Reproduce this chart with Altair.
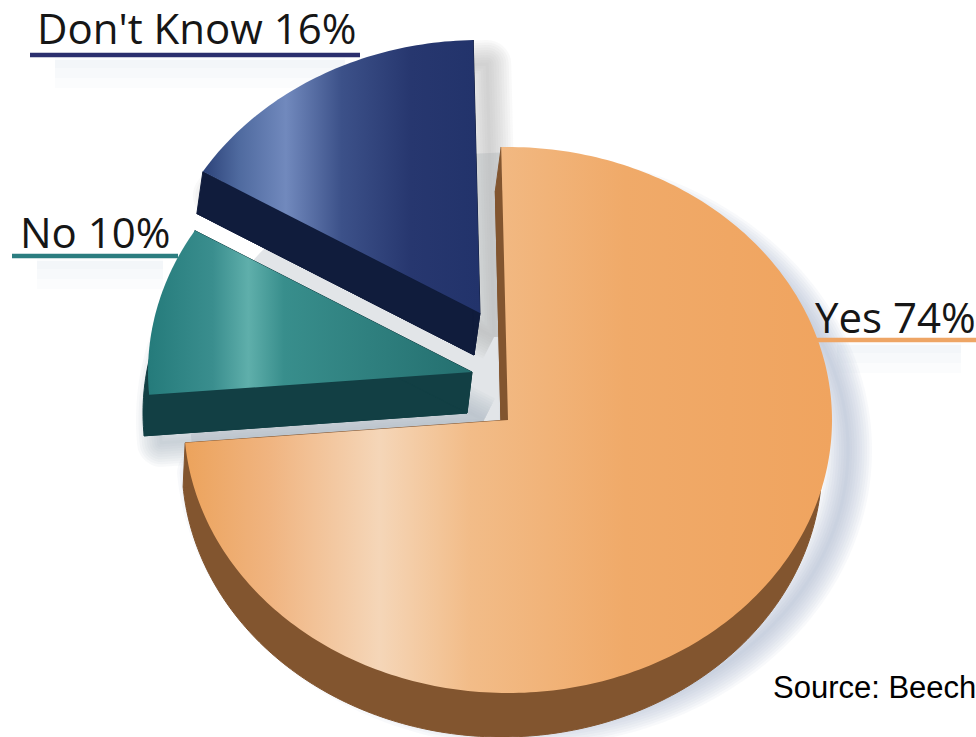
import math
import altair as alt
import pandas as pd

# Survey shares, clockwise from the first slice
categories = ["Yes", "No", "Don't Know"]
shares = [74, 10, 16]

W, H = 976, 737
START_ANGLE = -1.2          # degrees clockwise from 12 o'clock
RX, RY = 324, 273           # the pie is squashed into an ellipse

# Apex of each exploded slice, the extrusion vector of its side wall,
# and the width of the ellipse that forms the wall's lower rim
apex = {"Yes": (508, 420), "No": (472, 372), "Don't Know": (480, 313)}
depth = {"Yes": (-6, 44), "No": (-5, 41), "Don't Know": (-6, 42)}
wall_rx = {"Yes": 320, "No": 324, "Don't Know": 324}
shadow_offsets = {"Yes": [(16, 30)], "No": [(12, 48)], "Don't Know": [(14, 24)]}
shadow_colors = {"Yes": "#a9b8ca", "No": "#aab4bf", "Don't Know": "#adb2b8"}

face_stops = {
    "Yes": [(0, "#eca35c"), (0.13, "#f0b480"), (0.30, "#f5d6b8"), (0.44, "#f2bc88"),
            (0.68, "#f0aa69"), (1, "#f0a45f")],
    "No": [(0, "#257b7b"), (0.20, "#3a8e8e"), (0.31, "#5fafab"), (0.42, "#388e8c"), (1, "#246f6f")],
    "Don't Know": [(0, "#2c4279"), (0.13, "#4f6a9f"), (0.30, "#7189bd"), (0.50, "#3c5189"),
                   (0.75, "#27376f"), (1, "#22336b")],
}
wall_colors = {"Yes": "#82552f", "No": "#123f44", "Don't Know": "#101c3c"}
rule_colors = {"Yes": "#eea565", "No": "#2b7d80", "Don't Know": "#2b2f6e"}

# Label anchor (left, baseline) and underline extent for each slice
label_pos = {"Yes": (815, 333), "No": (20, 248), "Don't Know": (37, 44)}
rule_pos = {"Yes": (812, 976, 340), "No": (12, 178, 256), "Don't Know": (30, 360, 55)}

x_enc = alt.X("x:Q", scale=alt.Scale(domain=[0, W], range=[0, W], nice=False, zero=False), axis=None)
y_enc = alt.Y("y:Q", scale=alt.Scale(domain=[0, H], range=[0, H], nice=False, zero=False), axis=None)


def sector(center, a0, a1, dx=0, dy=0, rx=RX, ry=RY):
    """Closed outline of an elliptical sector between two clock angles."""
    cx, cy = center
    n = max(int(abs(a1 - a0)), 2)
    pts = [(cx + dx, cy + dy)]
    for k in range(n + 1):
        a = math.radians(a0 + (a1 - a0) * k / n)
        pts.append((cx + dx + rx * math.sin(a), cy + dy - ry * math.cos(a)))
    pts.append(pts[0])
    return pts


def polygon(pts, **mark):
    df = pd.DataFrame(pts, columns=["x", "y"]).assign(i=range(len(pts)))
    return alt.Chart(df).mark_line(clip=True, **mark).encode(
        x=x_enc, y=y_enc, order=alt.Order("i:Q")
    )


def gradient(stops):
    return alt.Gradient(
        gradient="linear", x1=0, x2=1, y1=0, y2=0,
        stops=[alt.GradientStop(offset=o, color=c) for o, c in stops],
    )


# Clock angles of every slice, derived from its share
angles = {}
running = START_ANGLE
for name, share in zip(categories, shares):
    angles[name] = (running, running + share * 3.6)
    running += share * 3.6

layers = []

# The notch left by the exploded slices sits in shade
a0, a1 = angles["Yes"]
layers.append(polygon(sector(apex["Yes"], a1, a0 + 360, rx=RX * 0.98, ry=RY * 0.98),
                      fill="#e2e5e8", strokeWidth=0))

# Soft drop shadow: many faint outlines build up a blurred edge
for name in categories:
    a0, a1 = angles[name]
    color = shadow_colors[name]
    for sx, sy in shadow_offsets[name]:
        pts = sector(apex[name], a0, a1, dx=sx, dy=sy)
        for width in (48, 43, 38, 33, 28, 23, 18, 13, 8, 3):
            layers.append(polygon(pts, stroke=color, strokeOpacity=0.08, strokeWidth=width,
                                  strokeJoin="round"))

# Faint shadows under the label underlines
for name in categories:
    x0, x1, y = rule_pos[name]
    for width, shift in ((30, 18), (18, 14), (8, 9)):
        band = [(x0 + 25, y + shift), (x1 - 15, y + shift)]
        layers.append(polygon(band, stroke="#c3d0dc", strokeOpacity=0.07, strokeWidth=width))

# Underlines beneath the labels
rules = pd.DataFrame([
    {"category": n, "x": rule_pos[n][0], "x2": rule_pos[n][1], "y": rule_pos[n][2]}
    for n in categories
])
layers.append(
    alt.Chart(rules).mark_rule(strokeWidth=4.5).encode(
        x=x_enc, x2="x2:Q", y=y_enc,
        color=alt.Color("category:N", scale=alt.Scale(
            domain=categories, range=[rule_colors[n] for n in categories]), legend=None),
    )
)

# Extruded side walls, then the lit top faces
for name in categories:
    a0, a1 = angles[name]
    dx, dy = depth[name]
    outline = sector(apex[name], a0, a1)
    lower = sector(apex[name], a0, a1, dx, dy, rx=wall_rx[name])
    wall = wall_colors[name]
    layers.append(polygon(lower, fill=wall, stroke=wall, strokeWidth=1))
    # side faces joining each straight edge of the top to the matching lower edge
    for idx in (1, -2):
        quad = [outline[idx], outline[0], lower[0], lower[idx], outline[idx]]
        layers.append(polygon(quad, fill=wall, stroke=wall, strokeWidth=1))
    layers.append(polygon(outline, fill=gradient(face_stops[name]), strokeWidth=0))

# Labels state the same shares the slices are built from
labels = pd.DataFrame([
    {"text": f"{n} {s}%", "x": label_pos[n][0], "y": label_pos[n][1]}
    for n, s in zip(categories, shares)
])
layers.append(
    alt.Chart(labels).mark_text(
        font="Open Sans", fontSize=42, align="left", baseline="alphabetic", color="#161616"
    ).encode(x=x_enc, y=y_enc, text="text:N")
)

source = pd.DataFrame({"text": ["Source: Beech"], "x": [773], "y": [698]})
layers.append(
    alt.Chart(source).mark_text(
        font="Liberation Sans", fontSize=31, align="left", baseline="alphabetic", color="#000000"
    ).encode(x=x_enc, y=y_enc, text="text:N")
)

chart = (
    alt.layer(*layers)
    .properties(width=W, height=H, padding=0, autosize=alt.AutoSizeParams(type="none"),
                background="#ffffff")
    .configure_view(strokeWidth=0)
)
chart.save("out.html", embed_options={"renderer": "svg", "actions": False})
